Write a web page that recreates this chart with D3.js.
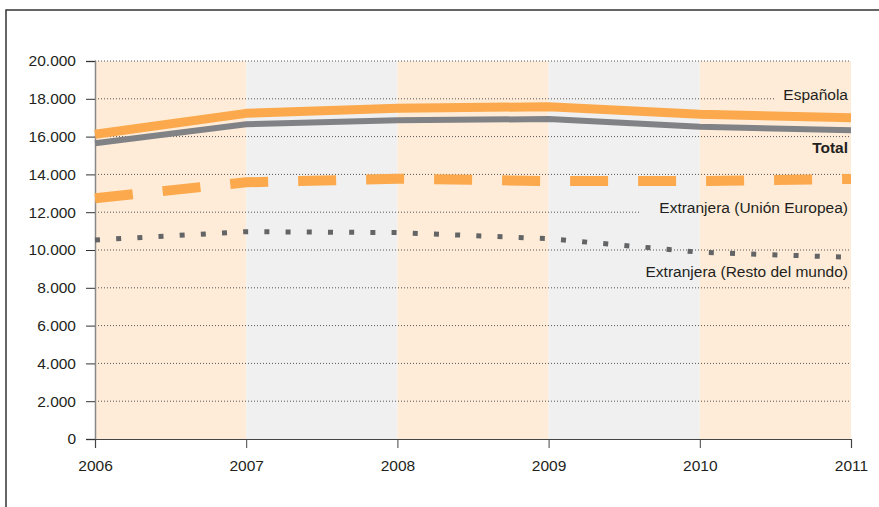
<!DOCTYPE html>
<html>
<head>
<meta charset="utf-8">
<script src="https://cdn.jsdelivr.net/npm/d3@7"></script>
<style>
    body { margin: 0; background: #fff; }
    text { font-family: "Liberation Sans", Arial, sans-serif; fill: #231f20; }
</style>
</head>
<body>
<svg id="chart" width="879" height="507"></svg>
<script>
const years = [2006, 2007, 2008, 2009, 2010, 2011];
const yTicks = [0, 2000, 4000, 6000, 8000, 10000, 12000, 14000, 16000, 18000, 20000];

const espanola = [16120, 17230, 17500, 17580, 17180, 17000];
const total = [15650, 16650, 16860, 16930, 16520, 16330];
const extranjeraUE = [12740, 13580, 13770, 13650, 13650, 13760];
const extranjeraResto = [10530, 10970, 10920, 10600, 9880, 9610];

// band colours per year interval
const bandColors = ['#feecd8', '#f0f0f0', '#feecd8', '#f0f0f0', '#feecd8'];

const svg = d3.select('#chart');

// Frame (top and left only)
svg.append('path')
    .attr('d', 'M6,507 L6,10 L879,10')
    .attr('fill', 'none')
    .attr('stroke', '#333')
    .attr('stroke-width', 1.5);

const x = d3.scaleLinear().domain([2006, 2011]).range([95, 851]);
const y = d3.scaleLinear().domain([0, 20000]).range([439, 61]);

// Background bands
svg.append('g')
    .selectAll('rect')
    .data(years.slice(0, -1))
    .enter().append('rect')
    .attr('x', d => x(d))
    .attr('y', y(20000))
    .attr('width', d => x(d + 1) - x(d))
    .attr('height', y(0) - y(20000))
    .attr('fill', (d, i) => bandColors[i]);

// Gridlines, broken where the labels sit
const gridEnd = { 18000: 775, 12000: 639 };
svg.append('g')
    .selectAll('line')
    .data(yTicks.filter(d => d > 0))
    .enter().append('line')
    .attr('x1', x(2006))
    .attr('x2', d => gridEnd[d] || x(2011))
    .attr('y1', d => y(d))
    .attr('y2', d => y(d))
    .attr('stroke', '#555')
    .attr('stroke-width', 1)
    .attr('stroke-dasharray', '1,2');

// Axes
const fmt = v => v === 0 ? '0' : d3.format(',')(v).replace(/,/g, '.');

const yAxis = svg.append('g')
    .attr('transform', `translate(${x(2006)},0)`)
    .call(d3.axisLeft(y).tickValues(yTicks).tickSize(9).tickPadding(10).tickFormat(fmt));
yAxis.select('.domain').attr('stroke', '#888').attr('stroke-width', 1.5);
yAxis.selectAll('.tick line').attr('stroke', '#333');
yAxis.selectAll('text').style('font-size', '15.5px').attr('fill', '#231f20');

const xAxis = svg.append('g')
    .attr('transform', `translate(0,${y(0)})`)
    .call(d3.axisBottom(x).tickValues(years).tickSize(9).tickPadding(12).tickFormat(d3.format('d')));
xAxis.select('.domain').attr('stroke', '#444').attr('stroke-width', 1.2);
xAxis.selectAll('.tick line').attr('stroke', '#444');
xAxis.selectAll('text').style('font-size', '15.5px').attr('fill', '#231f20');

// Lines
const line = d3.line()
    .x((d, i) => x(years[i]))
    .y(d => y(d));

function drawSeries(values, color, width, dash) {
    svg.append('path')
        .datum(values)
        .attr('d', line)
        .attr('fill', 'none')
        .attr('stroke', color)
        .attr('stroke-width', width)
        .attr('stroke-linecap', 'butt')
        .attr('stroke-linejoin', 'round')
        .attr('stroke-dasharray', dash || null);
}

drawSeries(extranjeraResto, '#636466', 5, '5,16.2');
drawSeries(extranjeraUE, '#fba94c', 10, '38,30');
drawSeries(total, '#818285', 6);
drawSeries(espanola, '#fba94c', 9);

// Series labels
const labels = [
    { text: 'Española', y: 99.5, bold: false },
    { text: 'Total', y: 153.3, bold: true },
    { text: 'Extranjera (Unión Europea)', y: 212.5, bold: false },
    { text: 'Extranjera (Resto del mundo)', y: 277, bold: false }
];
svg.append('g')
    .selectAll('text')
    .data(labels)
    .enter().append('text')
    .attr('x', 848)
    .attr('y', d => d.y)
    .attr('text-anchor', 'end')
    .style('font-size', '15.5px')
    .style('font-weight', d => d.bold ? 'bold' : 'normal')
    .text(d => d.text);
</script>
</body>
</html>
